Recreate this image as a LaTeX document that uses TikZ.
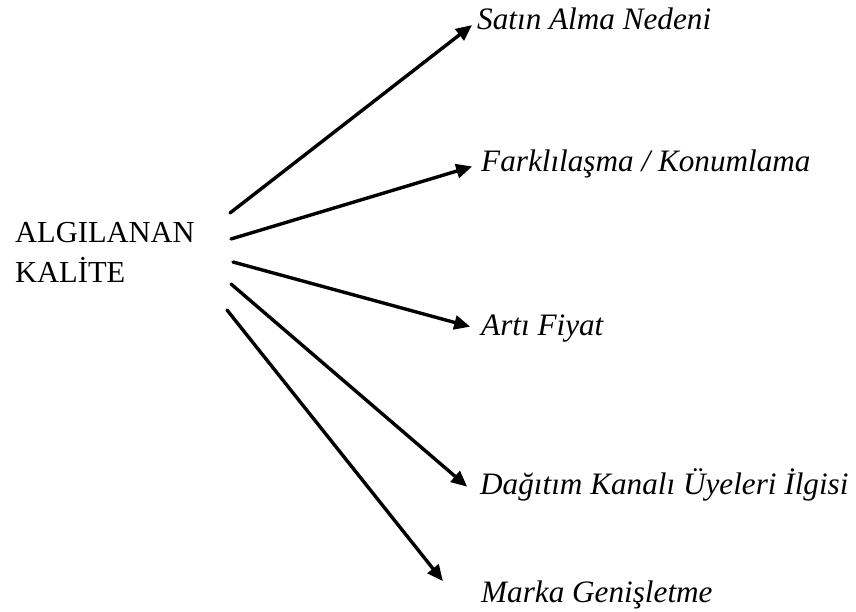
\documentclass[tikz,border=0pt]{standalone}
\usepackage{fontspec}
\setmainfont{Liberation Serif}
\usetikzlibrary{arrows.meta}
\begin{document}
\begin{tikzpicture}[x=1pt,y=-1pt,
  conn/.style={line width=3.4pt,line cap=round,-{Triangle[length=16pt,width=14pt]},shorten >=5pt},
  lbl/.style={anchor=base west,inner sep=0pt,font=\fontsize{31.2}{40}\selectfont\itshape},
  src/.style={anchor=base west,inner sep=0pt,align=left,font=\fontsize{30.5}{40}\selectfont}]
\useasboundingbox (0,0) rectangle (856,612);
% source concept
\node[src] (q) at (15,283) {ALGILANAN\\KALİTE};
% outcome labels
\node[lbl] (n1) at (477,30) {Satın Alma Nedeni};
\node[lbl] (n2) at (481,172) {Farklılaşma / Konumlama};
\node[lbl] (n3) at (481,335) {Artı Fiyat};
\node[lbl] (n4) at (480,494) {Dağıtım Kanalı Üyeleri İlgisi};
\node[lbl] (n5) at (481,602) {Marka Genişletme};
% arrow origins beside the source
\coordinate (s1) at (230,213);
\coordinate (s2) at (231,239);
\coordinate (s3) at (233,262);
\coordinate (s4) at (231,284);
\coordinate (s5) at (227,310);
% arrow targets next to each label
\coordinate (t1) at (476,22);
\coordinate (t2) at (477,165);
\coordinate (t3) at (475,328);
\coordinate (t4) at (471,490);
\coordinate (t5) at (446,585);
\draw[conn] (s1) -- (t1);
\draw[conn] (s2) -- (t2);
\draw[conn] (s3) -- (t3);
\draw[conn] (s4) -- (t4);
\draw[conn] (s5) -- (t5);
\end{tikzpicture}
\end{document}
